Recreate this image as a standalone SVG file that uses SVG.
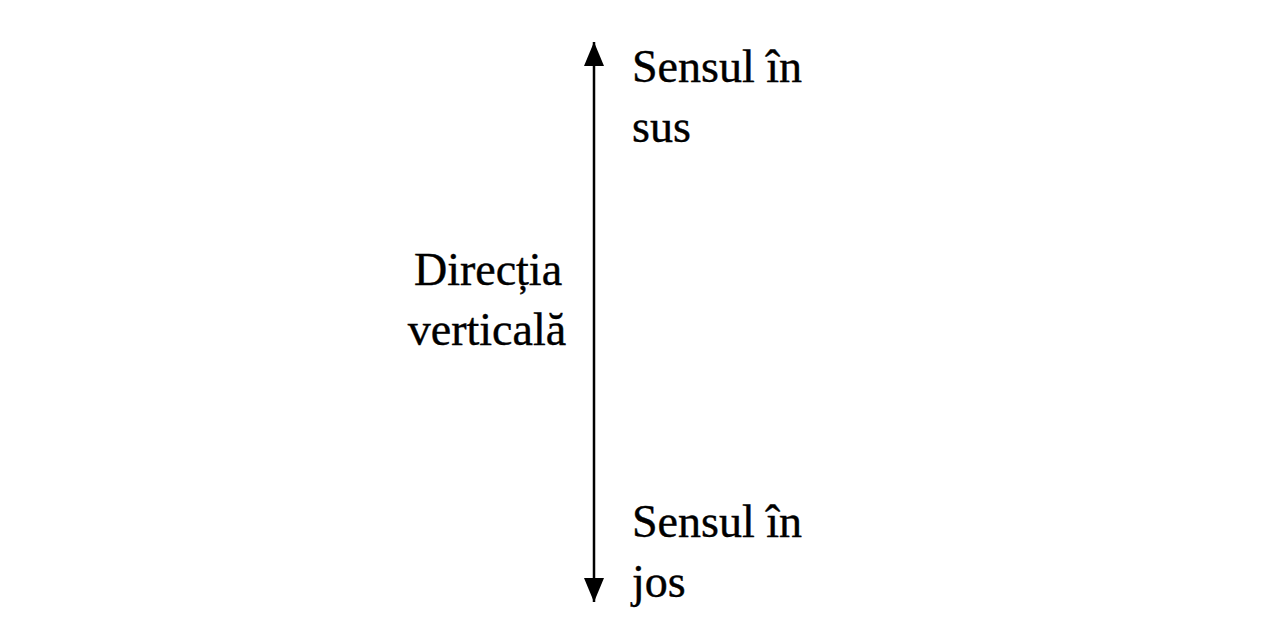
<svg xmlns="http://www.w3.org/2000/svg" width="1280" height="641" viewBox="0 0 1280 641">
<style>
text{font-family:"Liberation Serif","Times New Roman",serif;font-size:46px;fill:#000;stroke:#000;stroke-width:0.4}
</style>
<defs>
<marker id="ah2" viewBox="0 0 24 20" refX="24" refY="10" markerWidth="24" markerHeight="20" markerUnits="userSpaceOnUse" orient="auto">
<path d="M0,0 L24,10 L0,20 Z" fill="#000"/>
</marker>
</defs>
<rect width="1280" height="641" fill="#fff"/>
<g id="connectors">
<line x1="594" y1="321" x2="594" y2="42" stroke="#000" stroke-width="2.5" marker-end="url(#ah2)"/>
<line x1="594" y1="321" x2="594" y2="602" stroke="#000" stroke-width="2.5" marker-end="url(#ah2)"/>
</g>
<g id="label-up">
<text x="632" y="82">Sensul în</text>
<text x="632" y="142">sus</text>
</g>
<g id="label-down">
<text x="632" y="537">Sensul în</text>
<text x="632" y="597">jos</text>
</g>
<g id="label-vertical">
<text x="488" y="285" text-anchor="middle">Direcția</text>
<text x="487" y="345" text-anchor="middle">verticală</text>
</g>
</svg>
